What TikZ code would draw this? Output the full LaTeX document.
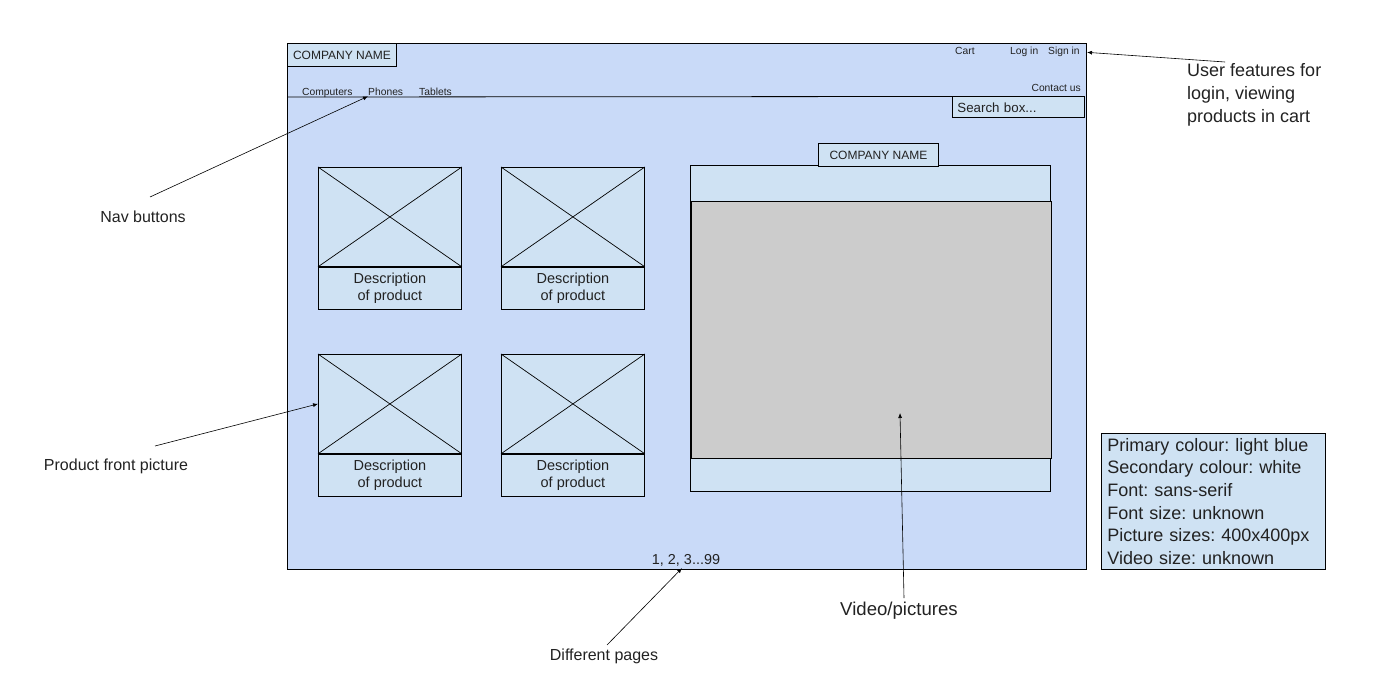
\documentclass[tikz,border=0pt]{standalone}
\usepackage{fontspec}
\setmainfont{Liberation Sans}
\usetikzlibrary{positioning,arrows.meta}
\definecolor{pagebg}{HTML}{C9DAF8}
\definecolor{boxbg}{HTML}{CFE2F3}
\definecolor{videobg}{HTML}{CCCCCC}
\definecolor{ink}{HTML}{222222}
\frenchspacing
\begin{document}
\begin{tikzpicture}[x=1pt,y=-1pt,
    frame/.style={draw,line width=0.8pt},
    card/.style={draw,line width=0.8pt,fill=boxbg,inner sep=0pt},
    tab/.style={card,font=\fontsize{12}{14}\selectfont,text=ink},
    navtext/.style={inner sep=0pt,anchor=base west,font=\fontsize{10.3}{12}\selectfont,text=ink},
    note/.style={inner sep=0pt,font=\fontsize{16}{18}\selectfont,text=ink},
    pointer/.style={-{Latex[length=5pt,width=4pt]},line width=0.6pt}]
  \useasboundingbox (0,0) rectangle (1394,690);
  \draw[frame,fill=pagebg] (287,43) rectangle (1086,569);
  \node[tab,minimum width=109,minimum height=23,anchor=north west] (logo) at (287,43) {COMPANY NAME};
  \node[navtext] (computers) at (302,96) {Computers};
  \node[navtext] (phones) at (368,96) {Phones};
  \node[navtext] (tablets) at (419,96) {Tablets};
  \node[navtext] (cart) at (955,55) {Cart};
  \node[navtext] (login) at (1010,55) {Log in};
  \node[navtext] (signin) at (1048,55) {Sign in};
  \node[navtext,anchor=base east] (contact) at (1081,92) {Contact us};
  \node[card,minimum width=132,minimum height=21,anchor=north west,inner xsep=5pt,text width=122,align=left,
    font=\fontsize{13.3}{15}\selectfont,text=ink] (search) at (952,96.5) {Search box...};
  \draw[line width=0.8pt] (287,97) -- (search.west |- 0,96.5);
  \foreach \cx/\cy/\n in {318/167/a,501/167/b,318/354/c,501/354/d}{
    \node[card,minimum width=143,minimum height=99,anchor=north west] (pic\n) at (\cx,\cy) {};
    \draw[line width=0.7pt] (pic\n.north west) -- (pic\n.south east) (pic\n.north east) -- (pic\n.south west);
    \node[card,minimum width=143,minimum height=42,anchor=north,align=center,
      font=\fontsize{14.5}{17.5}\selectfont,text=ink] (desc\n) at (pic\n.south) {Description\\of product};
    \draw[line width=1.4pt] (pic\n.south west) -- (pic\n.south east);
  }
  \node[card,minimum width=360,minimum height=326,anchor=north west] (video) at (690,165) {};
  \node[draw,line width=0.8pt,fill=videobg,minimum width=360,minimum height=257,anchor=north west] (screen) at (691,201) {};
  \node[tab,minimum width=120,minimum height=23,anchor=north west] (vlogo) at (818,143) {COMPANY NAME};
  \node[inner sep=0pt,font=\fontsize{14.4}{16}\selectfont,text=ink] (pages) at (686,560) {1, 2, 3...99};
  \node[card,minimum width=224,minimum height=136,anchor=north west,inner xsep=6pt,text width=212,align=left,
    font=\fontsize{18}{22.7}\selectfont,text=ink] (specs) at (1101,433)
    {Primary colour: light blue\\Secondary colour: white\\Font: sans-serif\\Font size: unknown\\Picture sizes: 400x400px\\Video size: unknown};
  \node[note,font=\fontsize{18}{23}\selectfont,align=left,anchor=north west] (usernote) at (1187,63) {User features for\\login, viewing\\products in cart};
  \node[note] (navnote) at (143,217) {Nav buttons};
  \node[note] (picnote) at (116,466) {Product front picture};
  \node[note] (pagenote) at (604,656) {Different pages};
  \node[note,font=\fontsize{18.6}{20}\selectfont] (videonote) at (899,611) {Video/pictures};
  \coordinate (userfrom) at (1225,62);
  \coordinate (navfrom) at (150,197);
  \coordinate (picfrom) at (155,446);
  \coordinate (pagefrom) at (607,645);
  \coordinate (videofrom) at (904,598);
  \draw[pointer] (userfrom) -- (signin.east -| 1087,50);
  \draw[pointer] (navfrom) -- (phones.south west);
  \draw[pointer] (picfrom) -- (picc.west);
  \draw[pointer] (pagefrom) -- ([xshift=-4pt,yshift=-2pt]pages.south);
  \draw[pointer] (videofrom) -- (900,413);
\end{tikzpicture}
\end{document}
